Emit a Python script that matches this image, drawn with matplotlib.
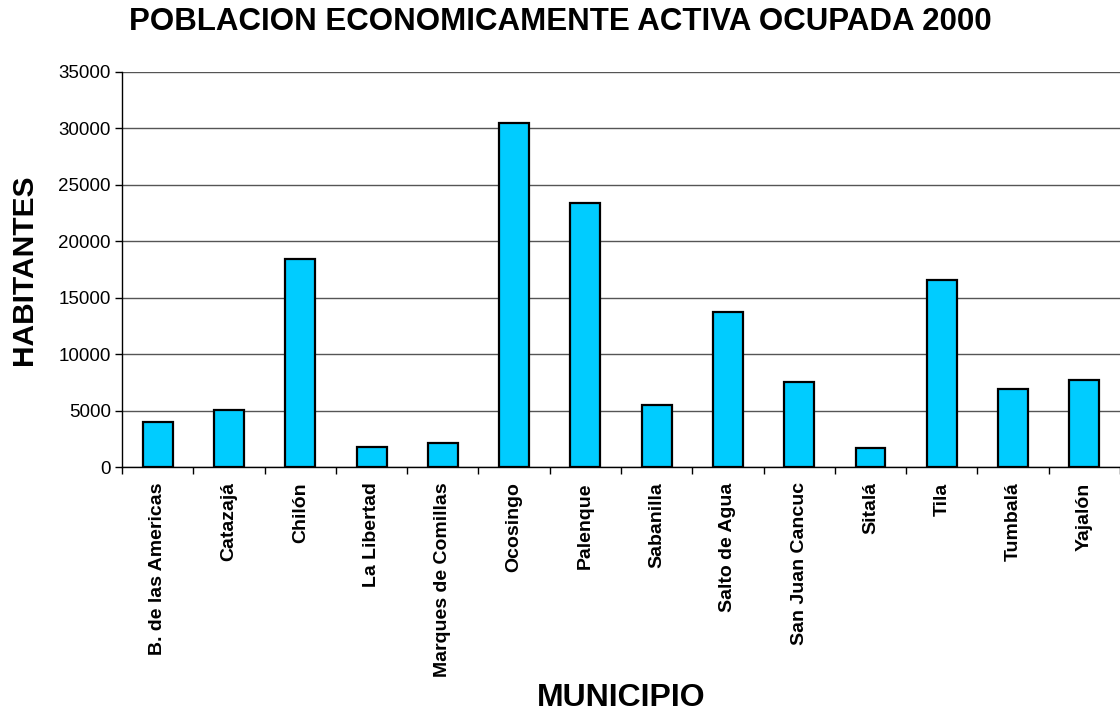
import matplotlib.pyplot as plt
import numpy as np

plt.rcParams['font.family'] = ['Liberation Sans', 'DejaVu Sans']

municipios = [
    "B. de las Americas", "Catazajá", "Chilón", "La Libertad",
    "Marques de Comillas", "Ocosingo", "Palenque", "Sabanilla",
    "Salto de Agua", "San Juan Cancuc", "Sitalá", "Tila",
    "Tumbalá", "Yajalón",
]
habitantes = [4010, 5070, 18420, 1820, 2150, 30510, 23380,
              5540, 13750, 7550, 1680, 16560, 6930, 7700]
y_ticks = [0, 5000, 10000, 15000, 20000, 25000, 30000, 35000]

fig = plt.figure(figsize=(11.2, 7.12), dpi=100)
ax = fig.add_axes([0.109, 0.344, 0.891, 0.555])

x = np.arange(len(municipios))
ax.bar(x, habitantes, width=0.42, color='#00CCFF', edgecolor='black',
       linewidth=1.6, zorder=3)

ax.set_xlim(-0.5, len(municipios) - 0.5)
ax.set_ylim(0, 35000)
ax.set_yticks(y_ticks)
ax.set_yticklabels([str(v) for v in y_ticks], fontsize=13.5)
ax.yaxis.grid(True, color='#555555', linewidth=1.0, zorder=0)

# labels centred on the bars, tick marks on the category boundaries
ax.set_xticks(x)
ax.set_xticklabels(municipios, rotation=90, fontsize=14, fontweight='bold',
                   va='top')
ax.tick_params(axis='x', which='major', length=0, pad=11)
ax.set_xticks(np.arange(len(municipios) + 1) - 0.5, minor=True)
ax.tick_params(axis='x', which='minor', length=5, width=1, direction='out')
ax.tick_params(axis='y', length=5, width=1, direction='out', pad=3)

for side in ['top', 'right']:
    ax.spines[side].set_visible(False)
ax.spines['left'].set_linewidth(1.0)
ax.spines['bottom'].set_linewidth(1.0)

ax.set_ylabel('HABITANTES', fontsize=21.5, fontweight='bold', va='center')
ax.yaxis.set_label_coords(-0.098, 0.5)
ax.set_xlabel('MUNICIPIO', fontsize=23, fontweight='bold', va='center')
ax.xaxis.set_label_coords(0.5, -0.585)
fig.text(0.5, 0.969, 'POBLACION ECONOMICAMENTE ACTIVA OCUPADA 2000',
         ha='center', va='center', fontsize=22.5, fontweight='bold')

fig.savefig('out.png', dpi=100)
